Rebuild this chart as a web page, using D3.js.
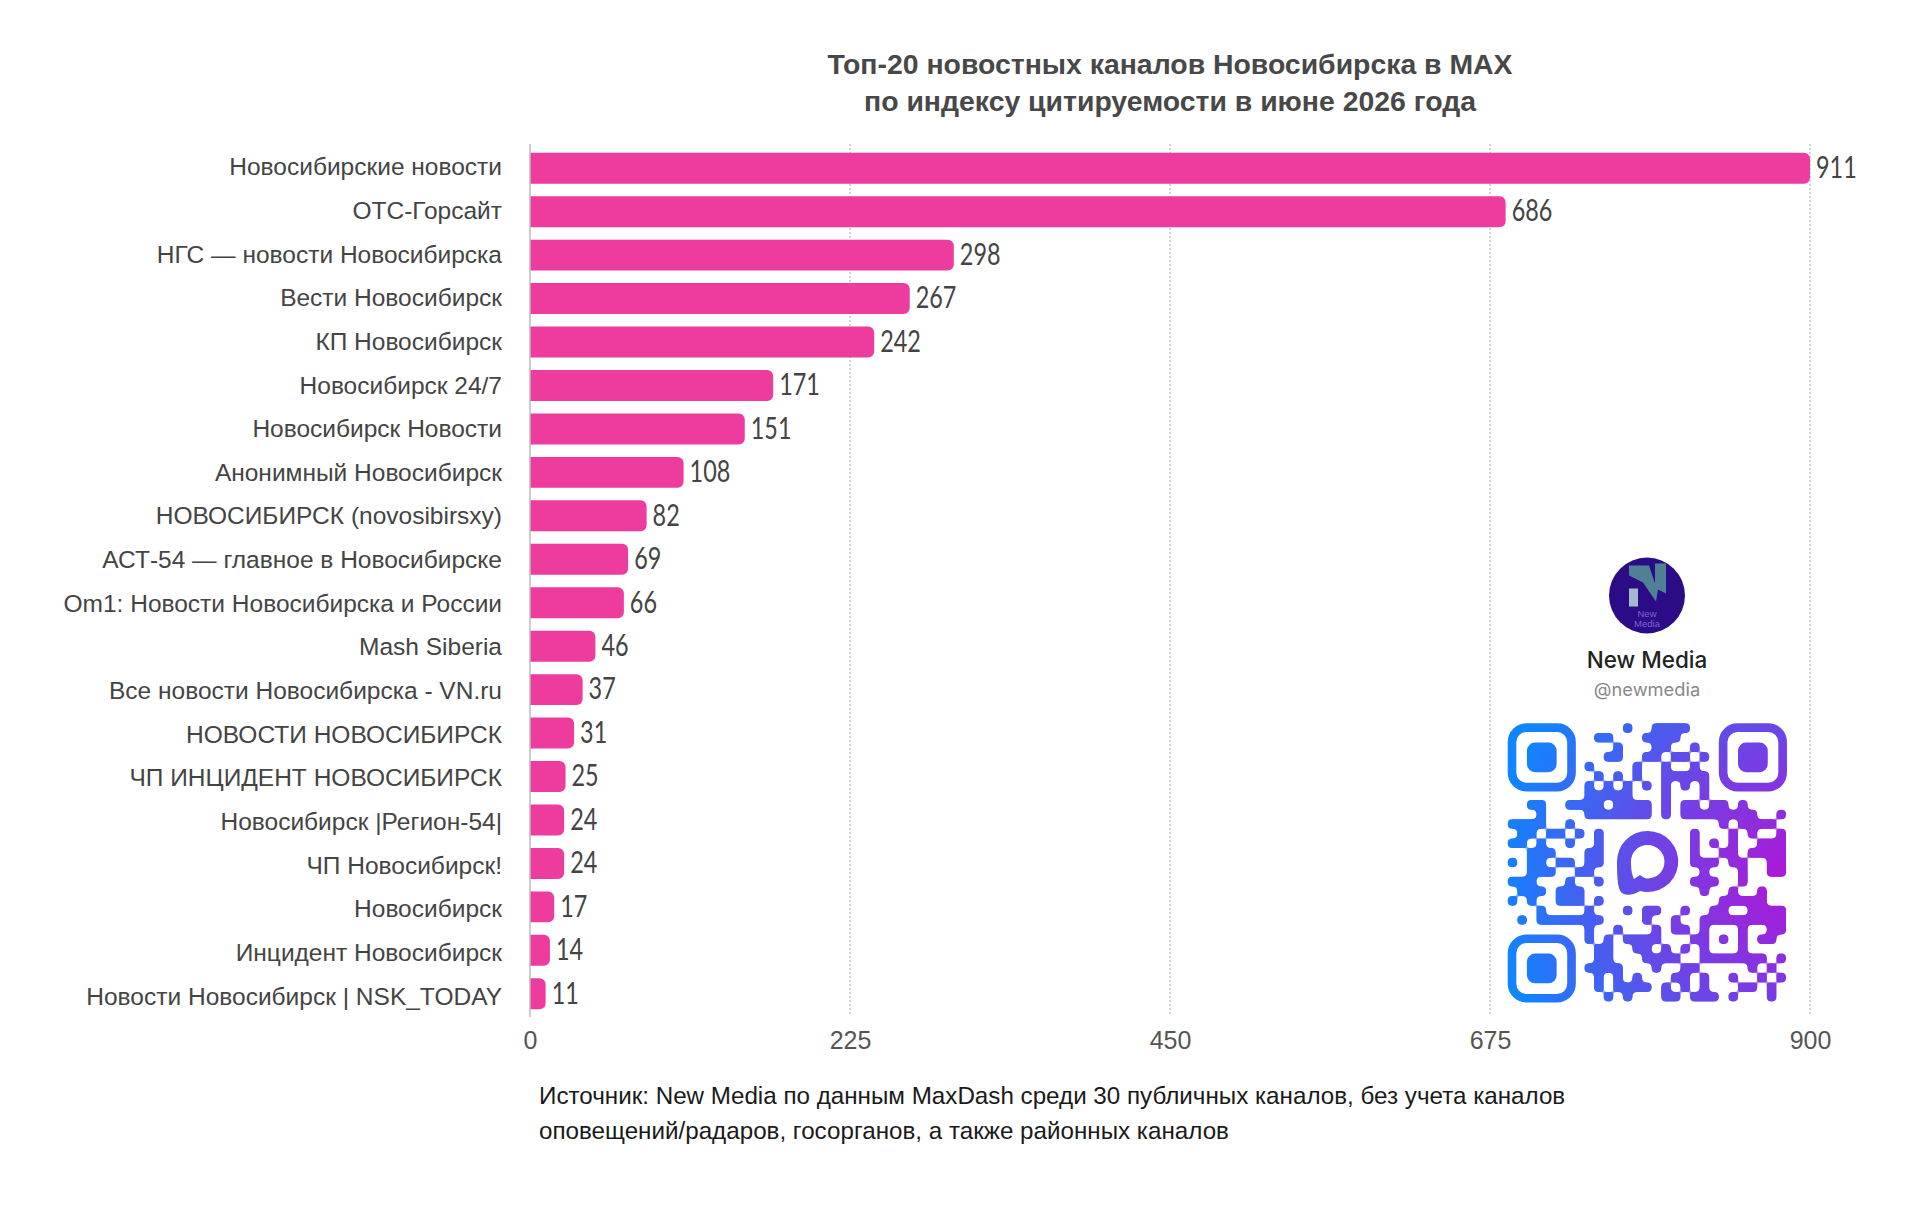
<!DOCTYPE html>
<html lang="ru">
<head>
<meta charset="utf-8">
<title>Топ-20 новостных каналов Новосибирска в MAX</title>
<script src="https://cdn.jsdelivr.net/npm/d3@7"></script>
<style>
  html, body { margin: 0; padding: 0; background: #fff; }
  svg { display: block; }
  text { font-family: "Liberation Sans", Arial, sans-serif; }
</style>
</head>
<body>
<svg id="chart" width="1920" height="1208"></svg>
<script>
// Channels and their citation index
const channels = [
  "Новосибирские новости", "ОТС-Горсайт", "НГС — новости Новосибирска", "Вести Новосибирск",
  "КП Новосибирск", "Новосибирск 24/7", "Новосибирск Новости", "Анонимный Новосибирск",
  "НОВОСИБИРСК (novosibirsxy)", "АСТ-54 — главное в Новосибирске", "Om1: Новости Новосибирска и России",
  "Mash Siberia", "Все новости Новосибирска - VN.ru", "НОВОСТИ НОВОСИБИРСК", "ЧП ИНЦИДЕНТ НОВОСИБИРСК",
  "Новосибирск |Регион-54|", "ЧП Новосибирск!", "Новосибирск", "Инцидент Новосибирск",
  "Новости Новосибирск | NSK_TODAY"
];
const citationIndex = [911, 686, 298, 267, 242, 171, 151, 108, 82, 69, 66, 46, 37, 31, 25, 24, 24, 17, 14, 11];
const xTicks = [0, 225, 450, 675, 900];
const titleLines = ["Топ-20 новостных каналов Новосибирска в MAX", "по индексу цитируемости в июне 2026 года"];
const sourceLines = [
  "Источник: New Media по данным MaxDash среди 30 публичных каналов, без учета каналов",
  "оповещений/радаров, госорганов, а также районных каналов"
];

// Dark modules of the channel QR code, listed row by row (finder corners are drawn apart)
const qrRows = [
  [12,15,16,17,18],
  [9,10,14,15,16,17],
  [11,15,16,19],
  [10,11,14,15,17,18,20],
  [8,13,16,19],
  [9,11,13,16,17,18,19,20],
  [8,10,12,14,16,18,20],
  [8,9,10,11,12,16,20],
  [2,3,6,7,8,9,11,12,13,14,16,18,19,21,22,24],
  [3,8,9,10,11,12,13,14,16,18,19,20,21,22,23,24,25,28],
  [0,1,2,3,6,22,24,25,26,27],
  [1,2,4,5,7,9,19,23,25,28],
  [0,1,3,6,9,19,21,23,26,27,28],
  [2,3,4,8,9,19,22,23,25,26,27,28],
  [0,2,3,5,6,8,9,19,20,21,23,24,27,28],
  [2,3,4,7,8,20,24,27,28],
  [0,1,2,6,9,19,20,21,24],
  [1,2,3,5,6,7,20,23,26],
  [0,2,5,6,7,9,22,23,24,25,26],
  [3,8,12,14,15,18,21,22,25,26,27,28],
  [1,3,4,5,6,7,8,9,14,17,20,21,22,23,24,25,26,27,28],
  [8,11,15,17,18,20,24,27,28],
  [8,10,12,13,14,15,19,20,22,24,26,27],
  [9,10,13,14,16,18,20,24],
  [9,10,14,15,16,17,20,21,22,23,24,25,26,28],
  [8,9,10,11,15,18,19,25,27],
  [9,11,13,17,18,20,23,26,28],
  [9,11,12,13,14,16,18,20,24,25,27],
  [10,12,16,17,19,20,21,23,27]
];
const qrFinders = [[0, 0], [22, 0], [0, 22]];

const svg = d3.select("#chart");

const x = d3.scaleLinear().domain([0, 900]).range([530, 1810]).clamp(true);
const y = d3.scaleBand().domain(channels).range([146.5, 1015.5]).paddingInner(0.287).paddingOuter(0.1435);
// Category labels run on a slightly longer step than the bars
const yLabels = d3.scaleBand().domain(channels).range([145.7, 1018.5]);

// Vertical dotted grid
svg.append("g").selectAll("line").data(xTicks.slice(1)).join("line")
  .attr("x1", d => x(d)).attr("x2", d => x(d))
  .attr("y1", 144).attr("y2", 1015)
  .attr("stroke", "#a9a9a9").attr("stroke-width", 1).attr("stroke-dasharray", "2 2");

// Bars, square at the baseline and rounded at the tip
const barRadius = 6;
svg.append("g").selectAll("path").data(citationIndex).join("path")
  .attr("fill", "#ee3c9e")
  .attr("d", (d, i) => {
    const x0 = x(0), x1 = x(d), t = y(channels[i]), h = y.bandwidth();
    const p = d3.path();
    p.moveTo(x0, t);
    p.lineTo(x1 - barRadius, t);
    p.arcTo(x1, t, x1, t + barRadius, barRadius);
    p.lineTo(x1, t + h - barRadius);
    p.arcTo(x1, t + h, x1 - barRadius, t + h, barRadius);
    p.lineTo(x0, t + h);
    p.closePath();
    return p.toString();
  });

// Category axis
const yAxis = svg.append("g").attr("transform", `translate(${x(0)},0)`)
  .call(d3.axisLeft(yLabels).tickSize(0).tickPadding(28));
yAxis.select(".domain").remove();
yAxis.selectAll("text")
  .attr("font-size", 24.5).attr("font-family", "Liberation Sans").attr("fill", "#444");
svg.append("line")
  .attr("x1", x(0)).attr("x2", x(0)).attr("y1", 144).attr("y2", 1017)
  .attr("stroke", "#bdbdbd").attr("stroke-width", 1.5);

// Value axis
const xAxis = svg.append("g").attr("transform", "translate(0,1031)")
  .call(d3.axisBottom(x).tickValues(xTicks).tickSize(0).tickPadding(0));
xAxis.select(".domain").remove();
xAxis.selectAll("text")
  .attr("font-size", 25).attr("font-family", "Liberation Sans").attr("fill", "#555");

// Value labels: a light humanist face squeezed horizontally
svg.append("g").selectAll("text").data(citationIndex).join("text")
  .attr("transform", (d, i) =>
    `translate(${x(d) + 6},${y(channels[i]) + y.bandwidth() / 2 - 0.7}) scale(0.78,1)`)
  .attr("dy", "0.35em")
  .attr("font-size", 30)
  .style("font-family", "Lato, sans-serif")
  .attr("fill", "#444")
  .text(d => d);

// Title
svg.append("g").selectAll("text").data(titleLines).join("text")
  .attr("x", 1170).attr("y", (d, i) => 74 + i * 37)
  .attr("text-anchor", "middle")
  .attr("font-size", 28.4).attr("font-weight", 700).attr("fill", "#484848")
  .text(d => d);

// Source note
svg.append("g").selectAll("text").data(sourceLines).join("text")
  .attr("x", 539).attr("y", (d, i) => 1104 + i * 35)
  .attr("font-size", 24.2).attr("fill", "#1a1a1a")
  .text(d => d);

// Channel card: avatar, name and handle
const card = svg.append("g");
const defs = svg.append("defs");
const avatarCx = 1647, avatarCy = 595.5, avatarR = 38;
card.append("circle").attr("cx", avatarCx).attr("cy", avatarCy).attr("r", avatarR).attr("fill", "#2b0c86");
const avatar = card.append("g").attr("transform", `translate(${avatarCx},${avatarCy})`);
avatar.append("path").attr("fill", "#4f8095")
  .attr("d", "M-18,-30 L2,-30 L8,-12 L8,-32 L19,-32 L19,-2 L11,-6 L9,6 L-4,-13 L-18,-20 Z");
avatar.append("path").attr("fill", "#a3bace").attr("d", "M-18,-7 L-9,-7 L-9,11 L-18,11 Z");
avatar.selectAll("text").data(["New", "Media"]).join("text")
  .attr("x", 0).attr("y", (d, i) => 21 + i * 10)
  .attr("text-anchor", "middle").attr("font-size", 9.5).attr("fill", "#7f63d6")
  .text(d => d);
card.append("text").attr("x", 1647).attr("y", 668)
  .attr("text-anchor", "middle").attr("font-size", 22.5).attr("font-weight", 500)
  .style("font-family", "Inter, sans-serif").attr("fill", "#222").text("New Media");
card.append("text").attr("x", 1647).attr("y", 696)
  .attr("text-anchor", "middle").attr("font-size", 18.3)
  .style("font-family", "Inter, sans-serif").attr("fill", "#888").text("@newmedia");

// QR code: modules pass through a blur-and-threshold filter so they melt into soft blobs
const qrSize = 29;
const qrX = d3.scaleLinear().domain([0, qrSize]).range([1507.7, 1786]);
const qrY = d3.scaleLinear().domain([0, qrSize]).range([723.3, 1001.6]);
const unit = qrX(1) - qrX(0);

const gradient = defs.append("radialGradient").attr("id", "qr-gradient")
  .attr("gradientUnits", "userSpaceOnUse")
  .attr("cx", 1795).attr("cy", 880).attr("r", 300);
gradient.append("stop").attr("offset", "0").attr("stop-color", "#b215d6");
gradient.append("stop").attr("offset", "0.5").attr("stop-color", "#6a46e6");
gradient.append("stop").attr("offset", "1").attr("stop-color", "#0f85ff");

const goo = defs.append("filter").attr("id", "qr-goo")
  .attr("filterUnits", "userSpaceOnUse")
  .attr("x", 1490).attr("y", 705).attr("width", 320).attr("height", 320)
  .attr("color-interpolation-filters", "sRGB");
goo.append("feGaussianBlur").attr("stdDeviation", 2.2);
goo.append("feColorMatrix").attr("type", "matrix")
  .attr("values", "1 0 0 0 0  0 1 0 0 0  0 0 1 0 0  0 0 0 7 -2.9");

const qrPath = d3.path();
qrRows.forEach((cols, r) => cols.forEach(c => {
  qrPath.rect(qrX(c), qrY(r), unit, unit);
}));

const qr = svg.append("g").attr("fill", "url(#qr-gradient)");
qr.append("path").attr("d", qrPath.toString()).attr("filter", "url(#qr-goo)");

// Finder corners: rounded ring with a rounded core
qrFinders.forEach(([c, r]) => {
  qr.append("rect")
    .attr("x", qrX(c) + unit * 0.45).attr("y", qrY(r) + unit * 0.45)
    .attr("width", unit * 6.2).attr("height", unit * 6.2)
    .attr("rx", unit * 1.5)
    .attr("fill", "none").attr("stroke", "url(#qr-gradient)").attr("stroke-width", unit * 0.9);
  qr.append("rect")
    .attr("x", qrX(c + 2)).attr("y", qrY(r + 2))
    .attr("width", unit * 3.1).attr("height", unit * 3.1)
    .attr("rx", unit * 0.85);
});

// Speech bubble at the centre of the code
qr.append("path").attr("fill-rule", "evenodd").attr("d",
  "M1647.5,831 A30.5,30.5 0 1 1 1640,891 C1634,895 1626,896 1622,893 C1618,890 1617,880 1617,862 A30.5,30.5 0 0 1 1647.5,831 Z " +
  "M1647.5,845 A16.5,16.5 0 0 0 1631,862 C1631,870 1632,875 1634,879 L1640,875 C1644,878 1646,878.5 1648,878.5 A16.5,16.5 0 0 0 1647.5,845 Z");
</script>
</body>
</html>
